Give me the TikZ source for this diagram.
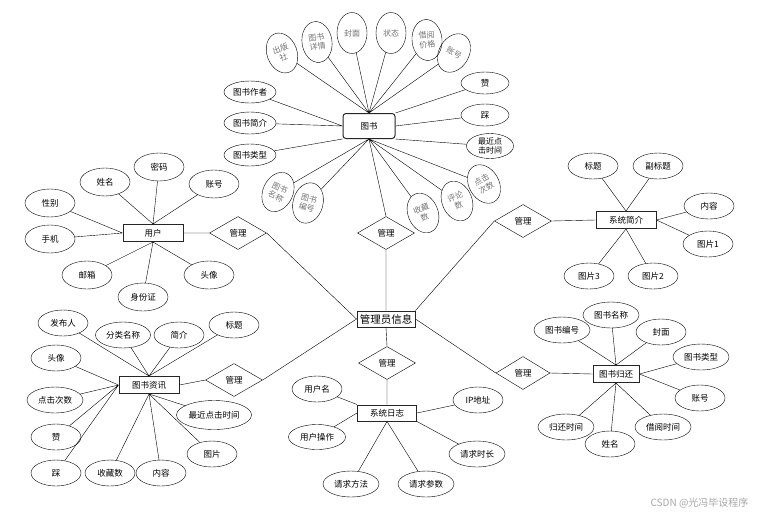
\documentclass[tikz,border=0pt]{standalone}
\usepackage{fontspec}
\newfontfamily\cjk{Noto Sans CJK SC}
\usetikzlibrary{shapes.geometric}
\tikzset{
  attr/.style={ellipse, draw, thin, minimum width=50pt, minimum height=26pt, inner sep=0pt, font=\cjk\fontsize{8.5}{9.5}\selectfont},
  vattr/.style={ellipse, draw, thin, minimum width=30pt, minimum height=41pt, inner sep=0pt, align=center, text=black!55, font=\cjk\fontsize{8}{9.5}\selectfont},
  ent/.style={rectangle, draw=black!85, line width=1pt, minimum width=60pt, minimum height=17pt, inner sep=1pt, font=\cjk\fontsize{8.5}{10}\selectfont},
  rel/.style={diamond, draw, thin, minimum width=57pt, minimum height=33pt, inner sep=0pt, font=\cjk\fontsize{8.5}{10}\selectfont}
}
\begin{document}
\begin{tikzpicture}[x=1pt,y=-1pt]
  \useasboundingbox (0,0) rectangle (759,517);
  % entities
  \node [ent, rounded corners=3pt, minimum width=52pt, minimum height=25pt] (bk) at (369,126) {图书};
  \node [ent, minimum width=58pt, minimum height=16pt, font=\cjk\fontsize{10.5}{12}\selectfont] (adm) at (386,319) {管理员信息};
  \node [ent] (us) at (153,233) {用户};
  \node [ent] (si) at (626,220) {系统简介};
  \node [ent] (bi) at (149,385) {图书资讯};
  \node [ent, minimum width=59pt, minimum height=16pt] (sl) at (387,413) {系统日志};
  \node [ent, minimum width=46pt] (br) at (616,374) {图书归还};
  % relations
  \node [rel] (gl1) at (386,233) {管理};
  \node [rel] (gl2) at (238,233) {管理};
  \node [rel] (gl3) at (523,221) {管理};
  \node [rel] (gl4) at (234,380) {管理};
  \node [rel] (gl5) at (387,363) {管理};
  \node [rel, minimum width=54pt] (gl6) at (523,373) {管理};
  \draw (bk.south) -- (gl1.north) (gl1.south) -- (adm.north);
  \draw (us.east) -- (gl2.west) (gl2.east) -- (adm.west);
  \draw (si.west) -- (gl3.east) (gl3.west) -- (adm.north east);
  \draw (bi.east) -- (gl4.west) (gl4.east) -- (adm.west);
  \draw (adm.south) -- (gl5.north) (gl5.south) -- (sl.north);
  \draw (br.west) -- (gl6.east) (gl6.west) -- (adm.east);
  % book attributes
  \node [vattr, rotate=20] (bcbs) at (282,53) {出版\\社};
  \node [vattr, rotate=8] (bxq) at (317,42) {图书\\详情};
  \node [vattr] (bfm) at (352,33) {封面};
  \node [vattr] (bzt) at (391,33) {状态};
  \node [vattr, rotate=5] (bjg) at (427,40) {借阅\\价格};
  \node [vattr, rotate=-30] (bzh) at (454,53) {账号};
  \node [attr, minimum width=48pt, minimum height=22pt] (bzan) at (485,83) {赞};
  \node [attr, minimum width=48pt, minimum height=22pt] (bcai) at (485,115) {踩};
  \node [attr, minimum width=47pt, minimum height=25pt, align=center, font=\cjk\fontsize{8}{9.5}\selectfont] (bzj) at (490,146) {最近点\\击时间};
  \node [vattr, rotate=30] (bdj) at (484,184) {点击\\次数};
  \node [vattr, rotate=22] (bpl) at (457,201) {评论\\数};
  \node [vattr, rotate=22] (bsc) at (423,213) {收藏\\数};
  \node [attr, minimum width=52pt, minimum height=22pt] (bzz) at (250,92) {图书作者};
  \node [attr, minimum width=52pt, minimum height=22pt] (bjj) at (250,123) {图书简介};
  \node [attr, minimum width=52pt, minimum height=22pt] (blx) at (250,155) {图书类型};
  \node [vattr, rotate=-25] (bmc) at (278,192) {图书\\名称};
  \node [vattr, rotate=-15] (bbh) at (308,203) {图书\\编号};
  \draw (bcbs) -- (bk.north) (bxq) -- (bk.north) (bfm) -- (bk.north)
        (bzt) -- (bk.north) (bjg) -- (bk.north) (bzh) -- (bk.north);
  \draw (bzan) -- (bk.north east) (bcai) -- (bk.east) (bzj) -- (bk.south east);
  \draw (bdj) -- (bk.south) (bpl) -- (bk.south) (bsc) -- (bk.south)
        (bmc) -- (bk.south) (bbh) -- (bk.south);
  \draw (bzz) -- (bk.west) (bjj) -- (bk.west) (blx) -- (bk.south west);
  % user attributes
  \node [attr, minimum height=28pt] (uxm) at (105,182) {姓名};
  \node [attr, minimum height=28pt] (umm) at (159,167) {密码};
  \node [attr, minimum height=28pt] (uzh) at (214,184) {账号};
  \node [attr, minimum height=28pt] (uxb) at (50,203) {性别};
  \node [attr, minimum height=28pt] (usj) at (50,239) {手机};
  \node [attr, minimum height=28pt] (uyx) at (87,275) {邮箱};
  \node [attr, minimum height=28pt] (usf) at (143,297) {身份证};
  \node [attr, minimum height=28pt] (utx) at (209,275) {头像};
  \draw (uxm) -- (us.north) (umm) -- (us.north) (uzh) -- (us.north);
  \draw (uxb) -- (us.west) (usj) -- (us.west);
  \draw (uyx) -- (us.south) (usf) -- (us.south) (utx) -- (us.south);
  % system intro attributes
  \node [attr] (sbt) at (593,166) {标题};
  \node [attr] (sfb) at (658,166) {副标题};
  \node [attr] (snr) at (709,206) {内容};
  \node [attr] (stp1) at (708,244) {图片1};
  \node [attr] (stp3) at (589,276) {图片3};
  \node [attr] (stp2) at (653,276) {图片2};
  \draw (sbt) -- (si.north) (sfb) -- (si.north);
  \draw (snr) -- (si.east) (stp1) -- (si.east);
  \draw (stp3) -- (si.south) (stp2) -- (si.south);
  % book info attributes
  \node [attr] (ifb) at (63,323) {发布人};
  \node [attr, minimum width=55pt] (ifl) at (123,335) {分类名称};
  \node [attr] (ijj) at (179,335) {简介};
  \node [attr] (ibt) at (234,325) {标题};
  \node [attr] (itx) at (56,358) {头像};
  \node [attr, minimum width=56pt] (idj) at (55,400) {点击次数};
  \node [attr] (izan) at (56,437) {赞};
  \node [attr] (icai) at (56,473) {踩};
  \node [attr] (isc) at (110,473) {收藏数};
  \node [attr] (inr) at (161,473) {内容};
  \node [attr] (itp) at (212,454) {图片};
  \node [attr, minimum width=75pt, minimum height=29pt] (izj) at (214,415) {最近点击时间};
  \draw (ifb) -- (bi.north) (ifl) -- (bi.north) (ijj) -- (bi.north) (ibt) -- (bi.north);
  \draw (itx) -- (bi.west) (idj) -- (bi.west) (izan) -- (bi.west) (icai) -- (bi.west);
  \draw (isc) -- (bi.south) (inr) -- (bi.south) (itp) -- (bi.south) (izj) -- (bi.south);
  % system log attributes
  \node [attr] (lyhm) at (317,389) {用户名};
  \node [attr, minimum width=57pt, minimum height=25pt] (lcz) at (317,437) {用户操作};
  \node [attr] (lip) at (478,400) {IP地址};
  \node [attr, minimum width=56pt] (lsc) at (477,454) {请求时长};
  \node [attr, minimum width=56pt] (lff) at (351,484) {请求方法};
  \node [attr, minimum width=56pt] (lcs) at (426,484) {请求参数};
  \draw (lyhm) -- (sl.north west) (lcz) -- (sl.west);
  \draw (lip) -- (sl.east) (lsc) -- (sl.south east);
  \draw (lff) -- (sl.south) (lcs) -- (sl.south);
  % book return attributes
  \node [attr, minimum width=56pt] (rbh) at (562,330) {图书编号};
  \node [attr, minimum width=56pt] (rmc) at (611,315) {图书名称};
  \node [attr] (rfm) at (661,332) {封面};
  \node [attr, minimum width=56pt] (rlx) at (701,357) {图书类型};
  \node [attr] (rzh) at (700,398) {账号};
  \node [attr, minimum width=56pt] (rjy) at (663,427) {借阅时间};
  \node [attr] (rxm) at (610,444) {姓名};
  \node [attr, minimum width=56pt] (rgh) at (566,427) {归还时间};
  \draw (rbh) -- (br.north) (rmc) -- (br.north) (rfm) -- (br.north);
  \draw (rlx) -- (br.east) (rzh) -- (br.east);
  \draw (rjy) -- (br.south) (rxm) -- (br.south) (rgh) -- (br.south);
  % watermark
  \node [anchor=east, text=black!35, font=\cjk\fontsize{10}{12}\selectfont] (wm) at (752,503) {CSDN @光冯毕设程序};
\end{tikzpicture}
\end{document}
